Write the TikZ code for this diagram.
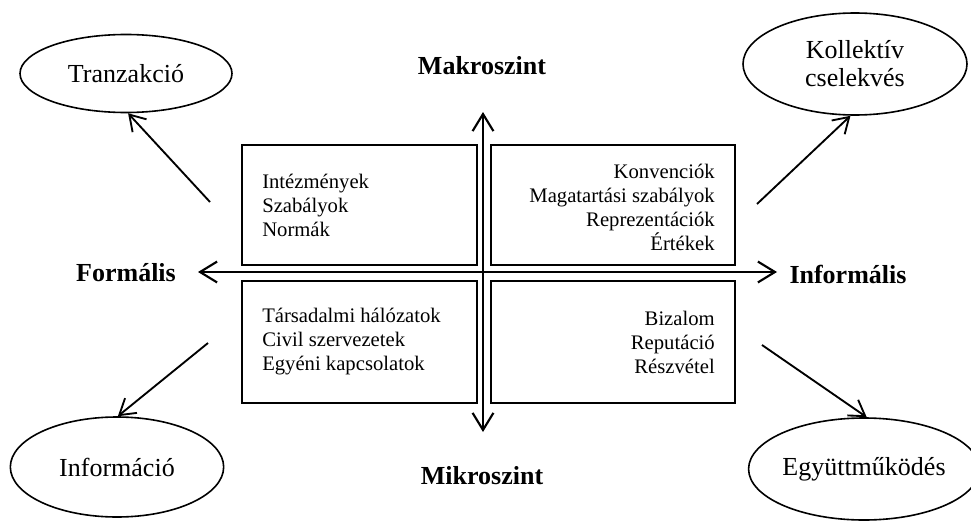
\documentclass[tikz,border=0pt]{standalone}
\usepackage{fontspec}
\setmainfont{Liberation Serif}
\usetikzlibrary{arrows.meta, shapes.geometric}

\begin{document}
\begin{tikzpicture}[x=0.75pt, y=-0.75pt,
        pole/.style={draw, line width=1.2pt, ellipse, inner sep=0pt, align=center,
            font=\fontsize{19.5}{21}\selectfont},
        quadrant/.style={draw, line width=1.1pt},
        quadtext/.style={inner sep=0pt, font=\fontsize{15.5}{18}\selectfont},
        levellabel/.style={inner sep=0pt, font=\bfseries\fontsize{19.5}{21}\selectfont},
        axis/.style={line width=1.6pt,
            {Straight Barb[length=4.5mm, width=5.5mm]}-{Straight Barb[length=4.5mm, width=5.5mm]}},
        link/.style={line width=1.4pt, -{Straight Barb[length=4mm, width=5mm]}}]

        \useasboundingbox (0,0) rectangle (971,521);

        % quadrants
        \draw[quadrant] (242,145) rectangle (477,265);
        \draw[quadrant] (491,145) rectangle (735,265);
        \draw[quadrant] (242,281) rectangle (477,403);
        \draw[quadrant] (491,281) rectangle (735,403);

        \node[quadtext, anchor=west, align=left] (formal) at (262,205)
            {Intézmények\\Szabályok\\Normák};
        \node[quadtext, anchor=east, align=right] (informal) at (715,207)
            {Konvenciók\\Magatartási szabályok\\Reprezentációk\\Értékek};
        \node[quadtext, anchor=west, align=left] (network) at (262,342)
            {Társadalmi hálózatok\\Civil szervezetek\\Egyéni kapcsolatok};
        \node[quadtext, anchor=east, align=right] (trust) at (715,342)
            {Bizalom\\Reputáció\\Részvétel};

        % axes
        \coordinate (top) at (483,112);
        \coordinate (bottom) at (483,432);
        \coordinate (left) at (198,272);
        \coordinate (right) at (777,272);
        \draw[axis] (bottom) -- (top);
        \draw[axis] (left) -- (right);

        \node[levellabel] (macro) at (482,66) {Makroszint};
        \node[levellabel] (micro) at (482,476) {Mikroszint};
        \node[levellabel] (formlabel) at (126,273) {Formális};
        \node[levellabel] (informlabel) at (848,274) {Informális};

        % outcomes
        \node[pole, minimum width=159pt, minimum height=58.5pt] (tranz) at (126,73.5) {Tranzakció};
        \node[pole, minimum width=168pt, minimum height=76.5pt] (koll) at (855,64) {Kollektív\\cselekvés};
        \node[pole, minimum width=160pt, minimum height=75pt] (info) at (117,467) {Információ};
        \node[pole, minimum width=156pt, minimum height=76.5pt] (egyutt) at (864,469) {Együttműködés};

        \coordinate (tl) at (210,202);
        \coordinate (tr) at (757,204);
        \coordinate (bl) at (208,343);
        \coordinate (br) at (762,345);
        \draw[link] (tl) -- (tranz.-87);
        \draw[link] (tr) -- (koll.-95);
        \draw[link] (bl) -- (info.89);
        \draw[link] (br) -- (egyutt.87);
\end{tikzpicture}
\end{document}
